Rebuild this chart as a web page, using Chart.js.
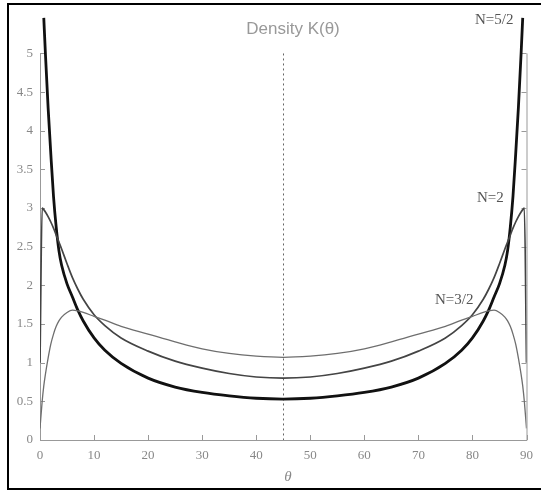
<!DOCTYPE html>
<html>
<head>
<meta charset="utf-8">
<script src="https://cdn.jsdelivr.net/npm/chart.js@4/dist/chart.umd.min.js"></script>
<style>
  body { margin: 0; background: #fff; }
  canvas { display: block; }
</style>
</head>
<body>
<canvas id="grafico" width="541" height="493"></canvas>
<script>
// angulo theta (graus)
const theta = [0, 0.4, 0.7, 1, 1.5, 2, 2.5, 3, 3.5, 4, 5, 6, 7, 8, 10, 12, 15, 20, 25, 30, 35, 40, 45,
  50, 55, 60, 65, 70, 75, 78, 80, 82, 83, 84, 85, 86, 86.5, 87, 87.5, 88, 88.5, 89, 89.3, 89.6, 90];

const n52 = [null, null, 5.46, 5.0, 4.3, 3.7, 3.15, 2.75, 2.45, 2.26, 2.02, 1.85, 1.68, 1.54, 1.32, 1.16, 0.99, 0.80, 0.685, 0.615, 0.57, 0.54, 0.53,
  0.54, 0.57, 0.615, 0.685, 0.80, 0.99, 1.16, 1.32, 1.54, 1.68, 1.85, 2.02, 2.26, 2.45, 2.75, 3.15, 3.7, 4.3, 5.0, 5.46, null, null];

const n2 = [1.0, 3.0, 2.98, 2.95, 2.89, 2.82, 2.74, 2.65, 2.56, 2.47, 2.28, 2.1, 1.95, 1.82, 1.62, 1.48, 1.32, 1.15, 1.02, 0.93, 0.86, 0.815, 0.80,
  0.815, 0.86, 0.93, 1.02, 1.15, 1.32, 1.48, 1.62, 1.82, 1.95, 2.1, 2.28, 2.47, 2.56, 2.65, 2.74, 2.82, 2.89, 2.95, 2.98, 3.0, 1.0];

const n32 = [0.15, 0.5, 0.7, 0.85, 1.06, 1.24, 1.37, 1.47, 1.54, 1.59, 1.65, 1.68, 1.67, 1.65, 1.6, 1.55, 1.47, 1.37, 1.27, 1.18, 1.12, 1.085, 1.07,
  1.085, 1.12, 1.18, 1.27, 1.37, 1.47, 1.55, 1.6, 1.65, 1.67, 1.68, 1.65, 1.59, 1.54, 1.47, 1.37, 1.24, 1.06, 0.85, 0.7, 0.5, 0.15];

const xTicks = [0, 10, 20, 30, 40, 50, 60, 70, 80, 90];
const yTicks = [0, 0.5, 1, 1.5, 2, 2.5, 3, 3.5, 4, 4.5, 5];

function pontos(serie) {
  return theta.map((t, i) => ({ x: t, y: serie[i] }));
}

const molduraPlugin = {
  id: 'moldura',
  beforeDatasetsDraw(chart) {
    const ctx = chart.ctx;
    const sx = chart.scales.x, sy = chart.scales.y;
    const x0 = sx.getPixelForValue(0), x90 = sx.getPixelForValue(90);
    const y0 = sy.getPixelForValue(0), y5 = sy.getPixelForValue(5);
    ctx.save();
    ctx.strokeStyle = '#999';
    ctx.lineWidth = 1;
    ctx.beginPath();
    ctx.moveTo(x0 + 0.5, y5); ctx.lineTo(x0 + 0.5, y0 + 0.5);
    ctx.lineTo(x90 + 0.5, y0 + 0.5); ctx.lineTo(x90 + 0.5, y5);
    yTicks.forEach(v => {
      const y = Math.round(sy.getPixelForValue(v)) + 0.5;
      ctx.moveTo(x0, y); ctx.lineTo(x0 + 5, y);
      ctx.moveTo(x90, y); ctx.lineTo(x90 - 5, y);
    });
    xTicks.forEach(v => {
      const x = Math.round(sx.getPixelForValue(v)) + 0.5;
      ctx.moveTo(x, y0); ctx.lineTo(x, y0 - 5);
    });
    ctx.stroke();
    // linha pontilhada em 45
    const x45 = Math.round(sx.getPixelForValue(45)) + 0.5;
    ctx.setLineDash([2, 3]);
    ctx.strokeStyle = '#666';
    ctx.beginPath();
    ctx.moveTo(x45, y5); ctx.lineTo(x45, y0);
    ctx.stroke();
    ctx.restore();
  },
  afterDraw(chart) {
    const ctx = chart.ctx;
    ctx.save();
    ctx.strokeStyle = '#000';
    ctx.lineWidth = 2;
    ctx.strokeRect(8, 4, 600, 485);
    ctx.fillStyle = '#999';
    ctx.font = '17px "Liberation Sans", sans-serif';
    ctx.textAlign = 'center';
    ctx.textBaseline = 'middle';
    ctx.fillText('Density K(\u03b8)', 293, 29);
    ctx.fillStyle = '#555';
    ctx.font = '15px "Liberation Serif", serif';
    ctx.textAlign = 'left';
    ctx.fillText('N=5/2', 475, 20);
    ctx.fillText('N=2', 477, 198);
    ctx.fillText('N=3/2', 435, 300);
    ctx.fillStyle = '#888';
    ctx.font = 'italic 15px "Liberation Serif", serif';
    ctx.textAlign = 'center';
    ctx.fillText('\u03b8', 288, 477);
    ctx.restore();
  }
};

function atualizarGrafico() {
  const u = document.getElementById('grafico').getContext('2d');
  new Chart(u, {
    type: 'line',
    data: {
      datasets: [{
        label: 'N=3/2',
        data: pontos(n32),
        borderColor: '#6e6e6e',
        borderWidth: 1.3
      }, {
        label: 'N=2',
        data: pontos(n2),
        borderColor: '#444',
        borderWidth: 1.7
      }, {
        label: 'N=5/2',
        data: pontos(n52),
        borderColor: '#111',
        borderWidth: 2.8
      }]
    },
    options: {
      responsive: false,
      animation: false,
      events: [],
      layout: { padding: { left: 0, right: 5, top: 9, bottom: 0 } },
      elements: {
        point: { radius: 0 },
        line: { cubicInterpolationMode: 'monotone', fill: false }
      },
      plugins: {
        legend: { display: false },
        tooltip: { enabled: false }
      },
      scales: {
        x: {
          type: 'linear',
          min: 0,
          max: 90,
          afterBuildTicks: s => { s.ticks = xTicks.map(v => ({ value: v })); },
          afterFit: s => { s.height = 53; },
          grid: { display: false, drawTicks: false },
          border: { display: false },
          ticks: {
            color: '#888',
            font: { family: '"Liberation Serif", serif', size: 13 },
            padding: 8,
            maxRotation: 0,
            callback: v => String(v)
          }
        },
        y: {
          min: 0,
          max: 5.5,
          afterBuildTicks: s => { s.ticks = yTicks.map(v => ({ value: v })); },
          afterFit: s => { s.width = 40; },
          grid: { display: false, drawTicks: false },
          border: { display: false },
          ticks: {
            color: '#888',
            font: { family: '"Liberation Serif", serif', size: 13 },
            padding: 7,
            callback: v => String(v)
          }
        }
      }
    },
    plugins: [molduraPlugin]
  });
}

atualizarGrafico();
</script>
</body>
</html>
